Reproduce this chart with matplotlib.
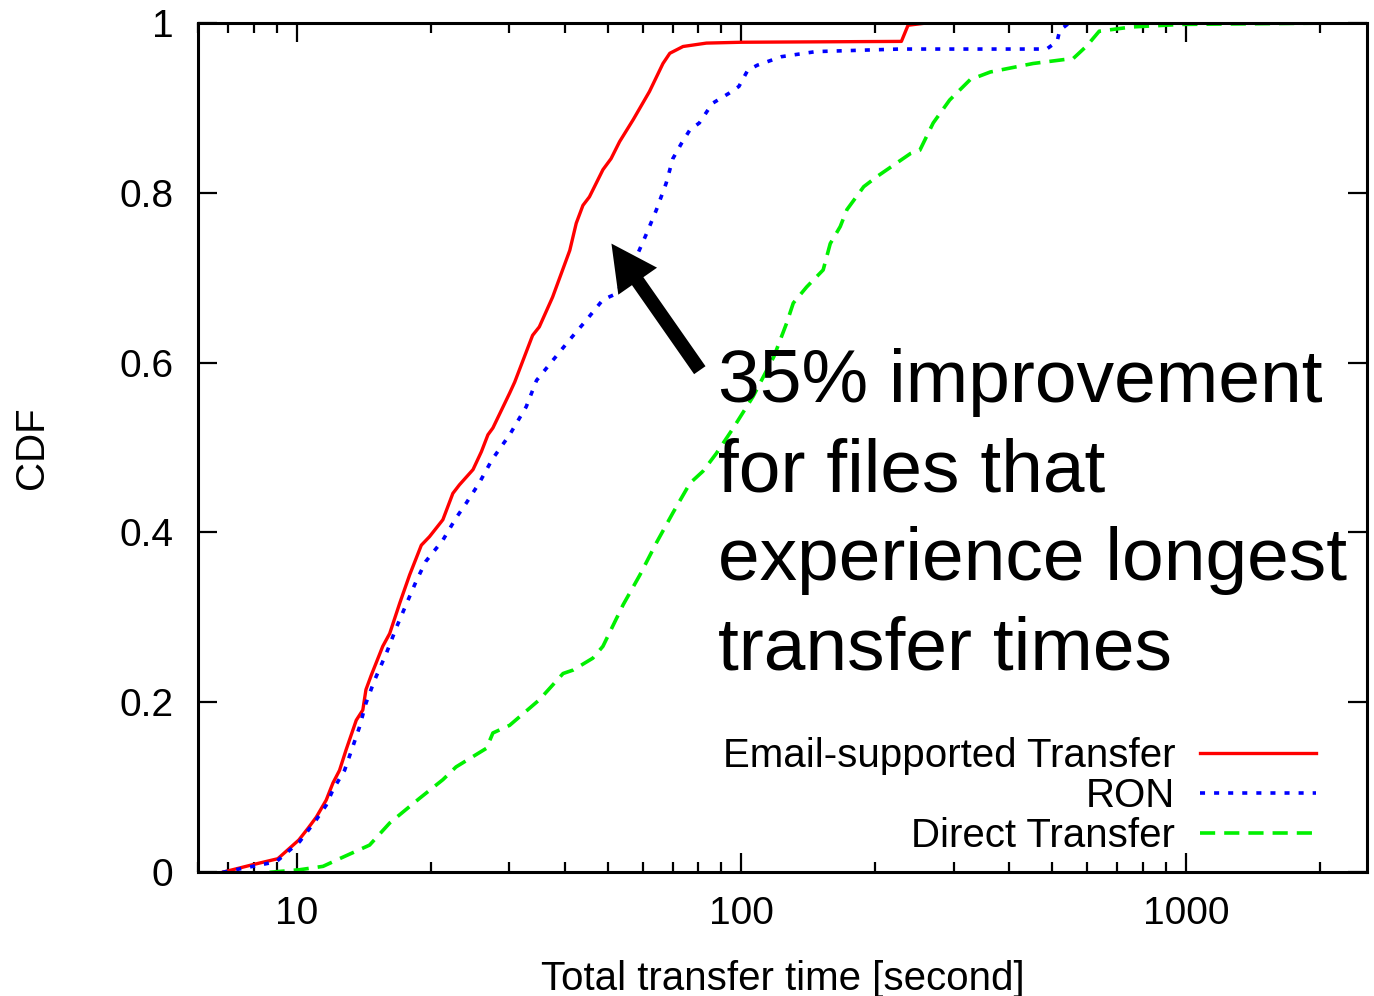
import numpy as np
import matplotlib
matplotlib.use('Agg')
import matplotlib.pyplot as plt
import matplotlib.ticker as ticker

plt.rcParams['font.family'] = ['Liberation Sans', 'DejaVu Sans']

# CDF curves (x: seconds, y: CDF)
email_x = [6.8, 7.96, 9.06, 10.1, 10.6, 11.06, 11.64, 12.05, 12.47, 12.9, 13.6, 14.07,
           14.3, 14.7, 15.6, 16.17, 17.04, 17.93, 19.05, 19.87, 21.3, 22.43, 23.2, 24.9,
           26.0, 26.9, 27.6, 30.1, 30.9, 33.9, 35.1, 37.6, 41.1, 42.5, 44.0, 45.5, 48.8,
           50.9, 53.2, 57.1, 62.1, 66.6, 69.0, 73.9, 83.4, 100, 229, 237, 264]
email_y = [0.0, 0.009, 0.016, 0.038, 0.052, 0.065, 0.085, 0.105, 0.12, 0.144, 0.179, 0.191,
           0.215, 0.232, 0.266, 0.281, 0.317, 0.35, 0.385, 0.395, 0.415, 0.446, 0.456, 0.474,
           0.495, 0.515, 0.523, 0.564, 0.577, 0.632, 0.642, 0.677, 0.732, 0.764, 0.785, 0.795,
           0.827, 0.84, 0.86, 0.886, 0.919, 0.952, 0.964, 0.972, 0.976, 0.977, 0.978, 0.997, 1.0]

ron_x = [6.8, 7.96, 8.99, 10.14, 11.06, 11.64, 12.05, 12.8, 13.36, 13.83, 14.3, 14.95,
         15.9, 16.77, 17.67, 18.6, 19.5, 21.3, 22.8, 24.0, 25.7, 27.5, 30.1, 32.8, 34.6,
         37.7, 41.1, 44.8, 48.8, 52.3, 58.1, 61.2, 64.4, 67.7, 70.1, 73.3, 76.6, 80.4,
         86.0, 93.8, 98.7, 103.3, 108.6, 123, 147, 227, 486, 513, 520, 547]
ron_y = [0.0, 0.007, 0.0125, 0.036, 0.062, 0.079, 0.097, 0.12, 0.148, 0.171, 0.199, 0.226,
         0.258, 0.289, 0.317, 0.344, 0.366, 0.391, 0.417, 0.434, 0.458, 0.486, 0.515, 0.548,
         0.579, 0.603, 0.627, 0.65, 0.674, 0.681, 0.725, 0.752, 0.78, 0.811, 0.84, 0.858,
         0.874, 0.882, 0.905, 0.917, 0.925, 0.944, 0.95, 0.96, 0.966, 0.969, 0.969, 0.978,
         0.991, 1.0]

direct_x = [8.68, 10.14, 11.45, 12.47, 14.57, 16.17, 18.87, 21.3, 22.8, 26.7, 27.6, 30.1,
            35.1, 39.7, 41.8, 46.3, 48.8, 54.2, 59.1, 64.4, 70.1, 76.6, 81.9, 87.8, 95.6,
            106.2, 118.3, 126.3, 130.8, 140.2, 152.7, 158.4, 166.8, 172.7, 188.4, 201.9,
            240, 252, 270, 294, 327, 363, 453, 558, 599, 638, 755, 979, 2550]
direct_y = [0.0, 0.003, 0.007, 0.016, 0.032, 0.058, 0.087, 0.109, 0.124, 0.146, 0.164, 0.173,
            0.203, 0.234, 0.238, 0.252, 0.266, 0.315, 0.35, 0.388, 0.423, 0.458, 0.472, 0.493,
            0.522, 0.56, 0.607, 0.646, 0.67, 0.689, 0.709, 0.74, 0.76, 0.78, 0.807, 0.819,
            0.846, 0.85, 0.882, 0.909, 0.933, 0.942, 0.952, 0.958, 0.973, 0.99, 0.995, 0.998,
            1.0]

labels = ['Email-supported Transfer', 'RON', 'Direct Transfer']
yticks = [0, 0.2, 0.4, 0.6, 0.8, 1]
xticks = [10, 100, 1000]

fig = plt.figure(figsize=(13.74, 9.96), dpi=100)
ax = fig.add_axes([0.1443, 0.1242, 0.8504, 0.853])

ax.plot(email_x, email_y, color='#ff0000', lw=2.4, label=labels[0])
ax.plot(ron_x, ron_y, color='#0000ff', lw=2.6, linestyle=(0, (1.4, 2.5)), label=labels[1])
ax.plot(direct_x, direct_y, color='#00f000', lw=2.6, linestyle=(0, (4.2, 2.5)), label=labels[2])

ax.set_xscale('log')
ax.set_xlim(6.0, 2550)
ax.set_ylim(0, 1)
ax.xaxis.set_major_locator(ticker.FixedLocator(xticks))
ax.xaxis.set_major_formatter(ticker.FixedFormatter([str(t) for t in xticks]))
ax.xaxis.set_minor_locator(ticker.LogLocator(base=10, subs=np.arange(2, 10)))
ax.xaxis.set_minor_formatter(ticker.NullFormatter())
ax.set_yticks(yticks)
ax.set_yticklabels(['%g' % t for t in yticks])

ax.tick_params(which='both', direction='in', top=True, right=True, width=1.6)
ax.tick_params(which='major', length=14, labelsize=28)
ax.tick_params(axis='y', pad=18)
ax.tick_params(axis='x', pad=17)
ax.tick_params(which='minor', length=7)
for s in ax.spines.values():
    s.set_linewidth(2.2)

ax.set_xlabel('Total transfer time [second]', fontsize=29, labelpad=20)
ax.set_ylabel('CDF', fontsize=29)
ax.yaxis.set_label_coords(-0.126, 0.5)

ax.legend(loc='lower right', bbox_to_anchor=(0.9566, 0.02), frameon=False,
          markerfirst=False, fontsize=29, handlelength=2.88, handletextpad=0.62,
          labelspacing=0.05, borderpad=0, borderaxespad=0)

ax.annotate('', xy=(51.0, 0.740), xytext=(80.6, 0.591),
            arrowprops=dict(facecolor='black', edgecolor='none', width=10,
                            headwidth=34, headlength=33, shrink=0))
ax.text(88.4, 0.617, '35% improvement\nfor files that\nexperience longest\ntransfer times',
        fontsize=54, va='top', ha='left', linespacing=1.37)

fig.savefig('out.png', dpi=100)
